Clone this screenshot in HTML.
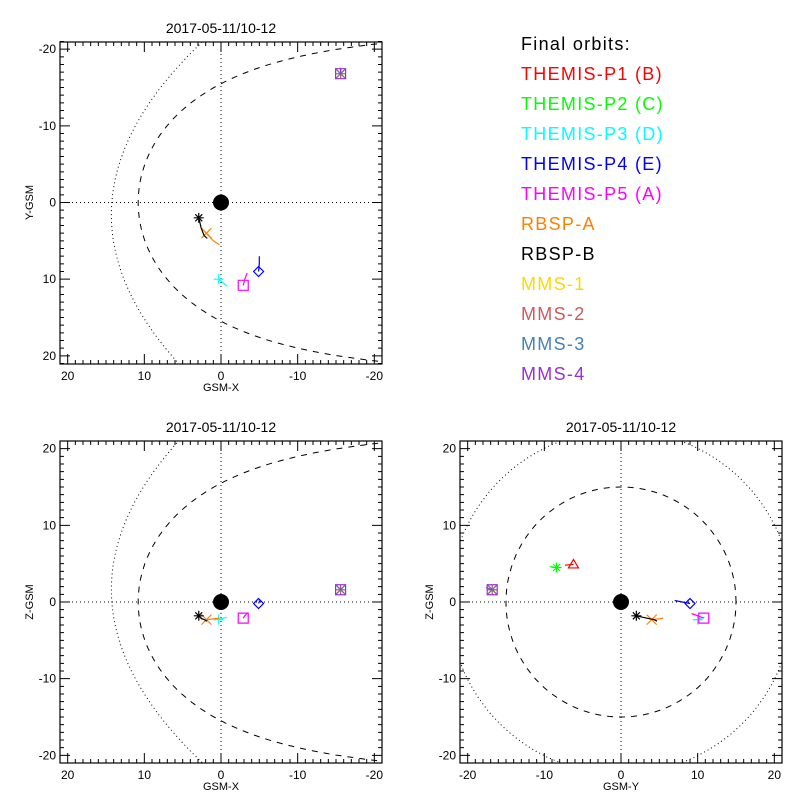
<!DOCTYPE html>
<html><head><meta charset="utf-8"><style>
html,body{margin:0;padding:0;background:#fff;}
svg{display:block;font-family:"Liberation Sans",sans-serif;}
</style></head><body>
<svg id="chart" width="800" height="800" viewBox="0 0 800 800">
<rect width="800" height="800" fill="#fff"/>
<defs>
<clipPath id="c1"><rect x="60" y="42" width="322" height="321"/></clipPath>
<clipPath id="c2"><rect x="60" y="441" width="322" height="322"/></clipPath>
<clipPath id="c3"><rect x="460" y="441" width="322" height="322"/></clipPath>
</defs>
<g id="legend" font-size="18" letter-spacing="1.3"></g>
</svg>
<script>
const scNames = ["THEMIS-P1 (B)","THEMIS-P2 (C)","THEMIS-P3 (D)","THEMIS-P4 (E)","THEMIS-P5 (A)","RBSP-A","RBSP-B","MMS-1","MMS-2","MMS-3","MMS-4"];
const scColors = ["#ff0000","#00ff00","#00ffff","#0000ff","#ff00ff","#ff8000","#000000","#ffd700","#cd5c5c","#4682b4","#9932cc"];
const scMarkers = ["tri","ast","plus","dia","sq","x","ast","plus","ast","x","sq"];
const traceX = [[60,60],[60,60],[0.3,-0.3,-0.8],[-4.9,-5.0,-5.0],[-2.9,-3.1,-3.4],[1.9,1.0,0.2],[2.9,2.6,2.2,1.8],[-15.6,-15.5],[-15.6,-15.5],[-15.6,-15.5],[-15.6,-15.6,-15.5]];
const traceY = [[-6.2,-7.3],[-8.4,-9.3],[10.0,10.5,10.9],[9.0,8.0,7.0],[10.8,10.0,9.2],[4.0,5.0,5.5],[2.0,3.3,4.3,4.7],[-16.8,-16.9],[-16.8,-16.9],[-16.8,-16.9],[-16.8,-17.4,-17.6]];
const traceZ = [[4.9,4.8],[4.5,4.6],[-2.3,-2.1,-2.0],[-0.2,0.0,0.2],[-2.1,-1.8,-1.5],[-2.3,-2.2,-2.1],[-1.8,-2.1,-2.3,-2.5],[1.6,1.7],[1.6,1.7],[1.6,1.7],[1.6,1.8,1.9]];
const tickVals = [-20,-10,0,10,20];
const titleText = "2017-05-11/10-12";

const NS="http://www.w3.org/2000/svg";
const svg=document.getElementById('chart');
function mk(tag,attrs,parent){const e=document.createElementNS(NS,tag);for(const k in attrs)e.setAttribute(k,attrs[k]);(parent||svg).appendChild(e);return e;}
const S=322/42;
const panels=[
 {x0:60,y0:42,cx:221,cy:202.5,hx:'X',vx:'Y',xs:-1,ys:1,xl:'GSM-X',yl:'Y-GSM',clip:'c1',name:'xy-panel',type:'mp'},
 {x0:60,y0:441,cx:221,cy:602,hx:'X',vx:'Z',xs:-1,ys:-1,xl:'GSM-X',yl:'Z-GSM',clip:'c2',name:'xz-panel',type:'mp'},
 {x0:460,y0:441,cx:621,cy:602,hx:'Y',vx:'Z',xs:1,ys:-1,xl:'GSM-Y',yl:'Z-GSM',clip:'c3',name:'yz-panel',type:'circ'}
];
function arr(k){return k==='X'?traceX:(k==='Y'?traceY:traceZ);}
panels.forEach(p=>{
 const g=mk('g',{});
 
 
 const fx=v=>p.cx+p.xs*S*v, fy=v=>p.cy+p.ys*S*v;
 const cg=mk('g',{'clip-path':'url(#'+p.clip+')'},g);
 const zl1=mk('line',{x1:p.x0,x2:p.x0+322,y1:p.cy,y2:p.cy,stroke:'#000','stroke-dasharray':'1 3'},cg);
 
 
 const zl2=mk('line',{x1:p.cx,x2:p.cx,y1:p.y0,y2:p.y0+322,stroke:'#000','stroke-dasharray':'1 3'},cg);
 
 
 let bs='',mp='';
 if(p.type==='mp'){
  for(let v=-30;v<=30;v+=0.25){const x=14.3-(v-1.6)*(v-1.6)/42.9;bs+=(bs?'L':'M')+fx(x).toFixed(1)+','+fy(v).toFixed(1);}
  for(let t=-170;t<=170;t+=1){const th=t*Math.PI/180;const r=10.8*Math.pow(2/(1+Math.cos(th)),0.52);const x=r*Math.cos(th),v=r*Math.sin(th);mp+=(mp?'L':'M')+fx(x).toFixed(1)+','+fy(v).toFixed(1);}
 } else {
  for(let t=0;t<=360;t+=2){const th=t*Math.PI/180;bs+=(bs?'L':'M')+fx(22.4*Math.cos(th)).toFixed(1)+','+fy(22.4*Math.sin(th)).toFixed(1);mp+=(mp?'L':'M')+fx(15*Math.cos(th)).toFixed(1)+','+fy(15*Math.sin(th)).toFixed(1);}
 }
 const b=mk('path',{d:bs,fill:'none',stroke:'#000','stroke-dasharray':'1 3'},cg);
 
 
 const m=mk('path',{d:mp,fill:'none',stroke:'#000','stroke-dasharray':'6 6'},cg);
 
 
 const e=mk('circle',{cx:p.cx,cy:p.cy,r:8,fill:'#000'},cg);
 
 
 const H=arr(p.hx),V=arr(p.vx);
 scNames.forEach((n,i)=>{
  const hs=H[i],vs=V[i],c=scColors[i];
  let d='';hs.forEach((h,j)=>{d+=(j?'L':'M')+fx(h).toFixed(1)+','+fy(vs[j]).toFixed(1);});
  const tr=mk('path',{d:d,fill:'none',stroke:c,'stroke-width':1.2},cg);
  
  
  const px=fx(hs[0]),py=fy(vs[0]),s=5;let md='';
  const mt=scMarkers[i];
  if(mt==='ast')md=`M${px-s},${py}h${2*s}M${px},${py-s}v${2*s}M${px-s*.7},${py-s*.7}l${1.4*s},${1.4*s}M${px-s*.7},${py+s*.7}l${1.4*s},${-1.4*s}`;
  else if(mt==='plus')md=`M${px-s},${py}h${2*s}M${px},${py-s}v${2*s}`;
  else if(mt==='x')md=`M${px-s},${py-s}l${2*s},${2*s}M${px-s},${py+s}l${2*s},${-2*s}`;
  else if(mt==='dia')md=`M${px},${py-s}l${s},${s}l${-s},${s}l${-s},${-s}z`;
  else if(mt==='sq')md=`M${px-s},${py-s}h${2*s}v${2*s}h${-2*s}z`;
  else if(mt==='tri')md=`M${px-s},${py+s*.7}h${2*s}l${-s},${-1.7*s}z`;
  const mk1=mk('path',{d:md,fill:'none',stroke:c,'stroke-width':1.2},cg);
  
  
 });
 const fr=mk('rect',{x:p.x0,y:p.y0,width:322,height:322,fill:'none',stroke:'#000','stroke-width':1.2},g);
 
 
 let td='';
 for(let v=-21;v<=21;v++){
  const L=(v%10===0)?10:4;const x=fx(v),y=fy(v);
  td+=`M${x},${p.y0+322}v${-L}M${x},${p.y0}v${L}M${p.x0},${y}h${L}M${p.x0+322},${y}h${-L}`;
 }
 const tk=mk('path',{d:td,stroke:'#000','stroke-width':1,fill:'none'},g);
 
 
 tickVals.forEach(v=>{
  const a=mk('text',{x:fx(v),y:p.y0+338,'font-size':12,'text-anchor':'middle'},g);a.textContent=v;
  
  
  const b2=mk('text',{x:p.x0-4,y:fy(v)+4,'font-size':12,'text-anchor':'end'},g);b2.textContent=v;
  
  
 });
 const t=mk('text',{x:p.cx,y:p.y0-9,'font-size':14,'text-anchor':'middle'},g);t.textContent=titleText;
 
 
 const xl=mk('text',{x:p.cx,y:p.y0+349,'font-size':11,'text-anchor':'middle'},g);xl.textContent=p.xl;
 
 
 const yl=mk('text',{x:p.x0-31,y:p.cy+4,'font-size':11,'text-anchor':'middle',transform:`rotate(-90 ${p.x0-31} ${p.cy})`},g);
 yl.textContent=p.yl;
 
 
});
const lg=document.getElementById('legend');
const h=mk('text',{x:521,y:50,fill:'#000'},lg);h.textContent='Final orbits:';


scNames.forEach((n,i)=>{
 const t=mk('text',{x:521,y:80+30*i,fill:scColors[i]},lg);t.textContent=n;
 
 
});
</script>
</body></html>
